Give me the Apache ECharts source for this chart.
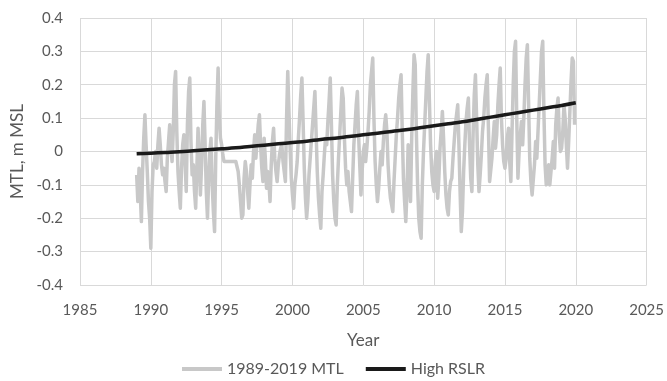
<!DOCTYPE html>
<html>
<head>
<meta charset="utf-8">
<script src="https://cdn.jsdelivr.net/npm/echarts@6/dist/echarts.min.js"></script>
<style>
  html, body { margin: 0; padding: 0; background: #fff; }
  #chart { width: 667px; height: 381px; }
</style>
</head>
<body>
<div id="chart"></div>
<script>
// monthly mean tide level, Jan 1989 .. Dec 2019 (m MSL)
var mtlStartYear = 1989;
var mtl1989 = [-0.07, -0.15, -0.05, -0.12, -0.21, -0.06, 0.04, 0.11, 0.02, -0.06, -0.15, -0.20];
var mtl1990 = [-0.29, -0.12, -0.04, -0.03, 0.00, -0.05, 0.02, 0.07, 0.02, -0.04, -0.07, -0.05];
var mtl1991 = [-0.09, -0.12, -0.02, 0.03, 0.08, 0.02, -0.03, 0.06, 0.20, 0.24, 0.06, -0.06];
var mtl1992 = [-0.12, -0.17, -0.05, 0.02, 0.05, -0.03, -0.12, 0.08, 0.18, 0.22, 0.03, -0.07];
var mtl1993 = [-0.04, -0.12, -0.17, -0.05, 0.07, -0.02, -0.13, -0.04, 0.08, 0.15, 0.02, -0.12];
var mtl1994 = [-0.20, -0.08, 0.00, 0.04, -0.10, -0.18, -0.24, -0.02, 0.14, 0.25, 0.10, 0.04];
var mtl1995 = [0.02, -0.01, -0.03, -0.03, -0.03, -0.03, -0.03, -0.03, -0.03, -0.03, -0.03, -0.03];
var mtl1996 = [-0.03, -0.03, -0.06, -0.10, -0.15, -0.20, -0.19, -0.08, -0.03, -0.06, -0.12, -0.17];
var mtl1997 = [-0.10, -0.04, -0.08, 0.00, 0.05, -0.02, 0.03, 0.08, 0.11, 0.02, -0.05, -0.09];
var mtl1998 = [0.04, -0.02, -0.11, -0.06, -0.09, -0.15, -0.04, 0.03, 0.07, -0.02, -0.06, -0.09];
var mtl1999 = [-0.04, -0.01, 0.01, 0.02, -0.03, -0.06, -0.09, 0.10, 0.24, 0.12, 0.01, -0.08];
var mtl2000 = [-0.13, -0.17, -0.10, -0.07, -0.03, 0.04, 0.10, 0.17, 0.22, 0.09, -0.05, -0.14];
var mtl2001 = [-0.20, -0.15, -0.07, -0.02, 0.03, 0.08, 0.13, 0.18, 0.06, -0.06, -0.14, -0.19];
var mtl2002 = [-0.23, -0.12, -0.07, -0.01, 0.04, 0.02, 0.09, 0.15, 0.22, 0.08, -0.07, -0.15];
var mtl2003 = [-0.20, -0.22, -0.10, -0.02, 0.05, 0.12, 0.19, 0.16, 0.04, -0.05, -0.10, -0.06];
var mtl2004 = [-0.12, -0.15, -0.18, -0.08, 0.02, 0.08, 0.14, 0.18, 0.05, -0.04, -0.13, -0.06];
var mtl2005 = [0.00, 0.02, -0.03, 0.01, 0.06, 0.12, 0.20, 0.24, 0.28, 0.10, -0.03, -0.10];
var mtl2006 = [-0.15, -0.11, -0.05, 0.00, -0.04, 0.03, 0.08, 0.11, 0.06, -0.04, -0.10, -0.14];
var mtl2007 = [-0.16, -0.18, -0.09, -0.02, 0.05, 0.10, 0.16, 0.20, 0.23, 0.06, -0.08, -0.15];
var mtl2008 = [-0.21, -0.12, 0.02, -0.06, -0.15, 0.04, 0.18, 0.29, 0.26, 0.05, -0.10, -0.20];
var mtl2009 = [-0.24, -0.26, -0.10, 0.00, 0.08, 0.16, 0.24, 0.29, 0.15, 0.02, -0.06, -0.10];
var mtl2010 = [-0.12, -0.03, 0.00, -0.14, -0.08, 0.01, 0.06, 0.12, 0.04, -0.06, -0.13, -0.17];
var mtl2011 = [-0.19, -0.12, -0.09, -0.08, -0.02, 0.03, 0.08, 0.11, 0.14, 0.02, -0.12, -0.24];
var mtl2012 = [-0.18, -0.06, 0.02, 0.09, 0.13, 0.16, 0.02, -0.08, -0.12, 0.05, 0.17, 0.23];
var mtl2013 = [0.10, -0.04, -0.12, -0.07, -0.01, 0.06, 0.10, 0.16, 0.20, 0.23, 0.07, -0.09];
var mtl2014 = [-0.09, -0.02, 0.04, 0.09, 0.01, 0.05, 0.14, 0.20, 0.25, 0.10, 0.02, -0.03];
var mtl2015 = [-0.05, -0.02, 0.04, 0.07, -0.03, -0.09, 0.06, 0.20, 0.30, 0.33, 0.10, -0.08];
var mtl2016 = [0.00, 0.05, 0.09, 0.02, 0.10, 0.20, 0.28, 0.32, 0.15, -0.02, -0.09, -0.13];
var mtl2017 = [-0.13, -0.04, 0.03, -0.02, 0.06, 0.14, 0.22, 0.30, 0.33, 0.12, -0.04, -0.10];
var mtl2018 = [-0.07, -0.04, -0.10, -0.06, -0.02, 0.03, -0.05, 0.08, 0.13, 0.16, 0.05, 0.00];
var mtl2019 = [0.01, 0.06, 0.14, 0.10, 0.02, -0.05, 0.03, 0.12, 0.21, 0.28, 0.27, 0.08];

// High RSLR projection, one value per year 1989..2020
var rslrYears = [1989, 1990, 1991, 1992, 1993, 1994, 1995, 1996, 1997, 1998, 1999, 2000, 2001, 2002, 2003, 2004,
  2005, 2006, 2007, 2008, 2009, 2010, 2011, 2012, 2013, 2014, 2015, 2016, 2017, 2018, 2019, 2020];
var rslrVals = [-0.007, -0.005, -0.003, -0.001, 0.002, 0.005, 0.008, 0.011, 0.015, 0.019, 0.023, 0.027, 0.031, 0.036, 0.040, 0.045,
  0.050, 0.055, 0.060, 0.065, 0.071, 0.077, 0.083, 0.089, 0.096, 0.103, 0.110, 0.117, 0.124, 0.131, 0.138, 0.146];

var xTicks = { min: 1985, max: 2025, step: 5 };
var yTicks = { min: -0.4, max: 0.4, step: 0.1 };

var mtlAll = [].concat(mtl1989, mtl1990, mtl1991, mtl1992, mtl1993, mtl1994, mtl1995, mtl1996, mtl1997, mtl1998,
  mtl1999, mtl2000, mtl2001, mtl2002, mtl2003, mtl2004, mtl2005, mtl2006, mtl2007, mtl2008, mtl2009, mtl2010,
  mtl2011, mtl2012, mtl2013, mtl2014, mtl2015, mtl2016, mtl2017, mtl2018, mtl2019);

var mtlData = mtlAll.map(function (v, i) { return [mtlStartYear + i / 12, v]; });
var rslrData = rslrYears.map(function (y, i) { return [y, rslrVals[i]]; });

var font = 'Lato, "Open Sans", sans-serif';
var grey = '#595959';
var chart = echarts.init(document.getElementById('chart'), null, { renderer: 'canvas' });

chart.setOption({
  animation: false,
  backgroundColor: '#fff',
  textStyle: { fontFamily: font },
  grid: { left: 80, right: 20, top: 18, bottom: 96 },
  legend: {
    top: 356,
    left: 'center',
    itemWidth: 40,
    itemHeight: 4,
    itemGap: 22,
    icon: 'rect',
    textStyle: { color: grey, fontSize: 16, fontFamily: font },
    data: ['1989-2019 MTL', 'High RSLR']
  },
  xAxis: {
    type: 'value',
    min: xTicks.min,
    max: xTicks.max,
    interval: xTicks.step,
    name: 'Year',
    nameLocation: 'middle',
    nameGap: 47,
    nameTextStyle: { color: grey, fontSize: 17, fontFamily: font },
    axisLine: { show: false },
    axisTick: { show: false },
    axisLabel: {
      color: grey, fontSize: 15, margin: 18, fontFamily: font,
      formatter: function (v) { return String(v); }
    },
    splitLine: { show: true, lineStyle: { color: '#d9d9d9', width: 1 } }
  },
  yAxis: {
    type: 'value',
    min: yTicks.min,
    max: yTicks.max,
    interval: yTicks.step,
    name: 'MTL, m MSL',
    nameLocation: 'middle',
    nameGap: 54,
    nameTextStyle: { color: grey, fontSize: 17, fontFamily: font },
    axisLine: { show: false },
    axisTick: { show: false },
    axisLabel: {
      color: grey, fontSize: 15, margin: 17, fontFamily: font,
      formatter: function (v) { return Math.abs(v) < 1e-9 ? '0' : v.toFixed(1); }
    },
    splitLine: { show: true, lineStyle: { color: '#d9d9d9', width: 1 } }
  },
  series: [
    {
      name: '1989-2019 MTL',
      type: 'line',
      data: mtlData,
      symbol: 'none',
      itemStyle: { color: '#c8c8c8' },
      lineStyle: { color: '#c8c8c8', width: 3.5, join: 'round' },
      z: 2
    },
    {
      name: 'High RSLR',
      type: 'line',
      data: rslrData,
      symbol: 'none',
      smooth: true,
      itemStyle: { color: '#1a1a1a' },
      lineStyle: { color: '#1a1a1a', width: 3.5 },
      z: 3
    }
  ]
});
</script>
</body>
</html>
